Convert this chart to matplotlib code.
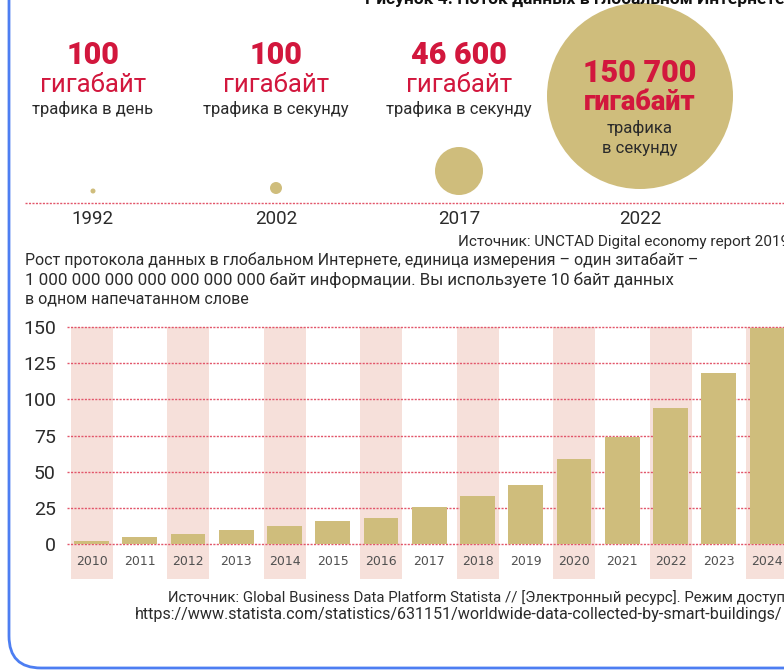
import matplotlib.pyplot as plt
from matplotlib.patches import Circle, FancyBboxPatch

plt.rcParams['font.family'] = ['Roboto', 'DejaVu Sans']

# bar chart data (zettabytes)
years = ['2010', '2011', '2012', '2013', '2014', '2015', '2016', '2017',
         '2018', '2019', '2020', '2021', '2022', '2023', '2024']
values = [2.5, 5, 7, 9.5, 12.5, 16, 18, 26, 33, 41, 59, 74, 94, 118, 149]
yticks = [0, 25, 50, 75, 100, 125, 150]

# top infographic
milestone_years = ['1992', '2002', '2017', '2022']
milestone_nums = ['100', '100', '46 600', '150 700']
milestone_units = ['гигабайт трафика в день', 'гигабайт трафика в секунду',
                   'гигабайт трафика в секунду', 'гигабайт трафика в секунду']
bubble_r = [2.5, 6, 24, 93]

RED = '#d2173d'
GOLD = '#cfbd7c'
PINK = '#f6e0da'
GRID = '#e2566a'
TXT = '#2b2b2b'

W, H = 784, 671
fig = plt.figure(figsize=(W / 100, H / 100), dpi=100)

# overlay axes in pixel coordinates for the infographic part
ax0 = fig.add_axes([0, 0, 1, 1])
ax0.set_xlim(0, W)
ax0.set_ylim(H, 0)
ax0.axis('off')

# blue frame
ax0.add_patch(FancyBboxPatch((9, -100), 1000, 768, boxstyle='round,pad=0,rounding_size=32',
                             fill=False, ec='#4d7ef2', lw=2))

ax0.text(365, -1, 'Рисунок 4. Поток данных в глобальном Интернете', fontsize=12.5,
         fontweight='bold', color='#111111', ha='left', va='center')

xs = [93, 276, 459, 640]
bottoms = [193.5, 194, 195, 189]
for i in range(4):
    ax0.add_patch(Circle((xs[i], bottoms[i] - bubble_r[i]), bubble_r[i], color=GOLD, lw=0))
    ax0.text(xs[i], 219, milestone_years[i], fontsize=13.5, color=TXT, ha='center', va='center')

for i in range(3):
    word, rest = milestone_units[i].split(' ', 1)
    ax0.text(xs[i], 55, milestone_nums[i], fontsize=22, fontweight='black', color=RED,
             ha='center', va='center')
    ax0.text(xs[i], 85, word, fontsize=18.5, color=RED, ha='center', va='center')
    ax0.text(xs[i], 109, rest, fontsize=12, color=TXT, ha='center', va='center')

word, rest = milestone_units[3].split(' ', 1)
ax0.text(xs[3], 73, milestone_nums[3], fontsize=22, fontweight='black', color=RED,
         ha='center', va='center')
ax0.text(xs[3], 103, word, fontsize=19.5, fontweight='black', color=RED, ha='center', va='center')
ax0.text(xs[3], 128, rest.split(' ', 1)[0], fontsize=12, color=TXT, ha='center', va='center')
ax0.text(xs[3], 148, rest.split(' ', 1)[1], fontsize=12, color=TXT, ha='center', va='center')

ax0.plot([25, W], [203, 203], color=GRID, lw=1, ls=(0, (1.5, 1)))

ax0.text(458, 242, 'Источник: UNCTAD Digital economy report 2019', fontsize=11,
         color=TXT, ha='left', va='center')
ax0.text(25, 260, 'Рост протокола данных в глобальном Интернете, единица измерения – один зитабайт –',
         fontsize=11.5, color=TXT, ha='left', va='center')
ax0.text(25, 280, '1 000 000 000 000 000 000 000 байт информации. Вы используете 10 байт данных',
         fontsize=12.2, color=TXT, ha='left', va='center')
ax0.text(25, 299, 'в одном напечатанном слове', fontsize=11.5, color=TXT, ha='left', va='center')

ax0.text(168, 598, 'Источник: Global Business Data Platform Statista // [Электронный ресурс]. Режим доступа:',
         fontsize=10.8, color=TXT, ha='left', va='center')
ax0.text(135, 614, 'https://www.statista.com/statistics/631151/worldwide-data-collected-by-smart-buildings/',
         fontsize=11.6, color=TXT, ha='left', va='center')

# bar chart axes: x 67..784 px, y 579..325 px
left, right, bot, top = 67, W, 579, 325
ax = fig.add_axes([left / W, 1 - bot / H, (right - left) / W, (bot - top) / H])
ax.set_facecolor('none')
ax.set_xlim(-0.51, 14.35)
ax.set_ylim(-24, 151.4)

pos = list(range(len(years)))
for i in pos:
    if i % 2 == 0:
        ax.fill_between([i - 0.435, i + 0.435], -24, 150, color=PINK, lw=0, zorder=0)
for t in yticks:
    ax.axhline(t, color=GRID, lw=1, ls=(0, (1.5, 1)), zorder=1)
ax.bar(pos, values, width=0.72, color=GOLD, zorder=2)
for i in pos:
    ax.text(i, -12.2, years[i], fontsize=9, color='#505050', ha='center', va='center',
            family='DejaVu Sans')

ax.set_yticks(yticks)
ax.set_yticklabels([str(t) for t in yticks], fontsize=14, color=TXT)
ax.tick_params(axis='y', length=0, pad=8)
ax.set_xticks([])
for s in ax.spines.values():
    s.set_visible(False)

fig.savefig('out.png', dpi=100)
